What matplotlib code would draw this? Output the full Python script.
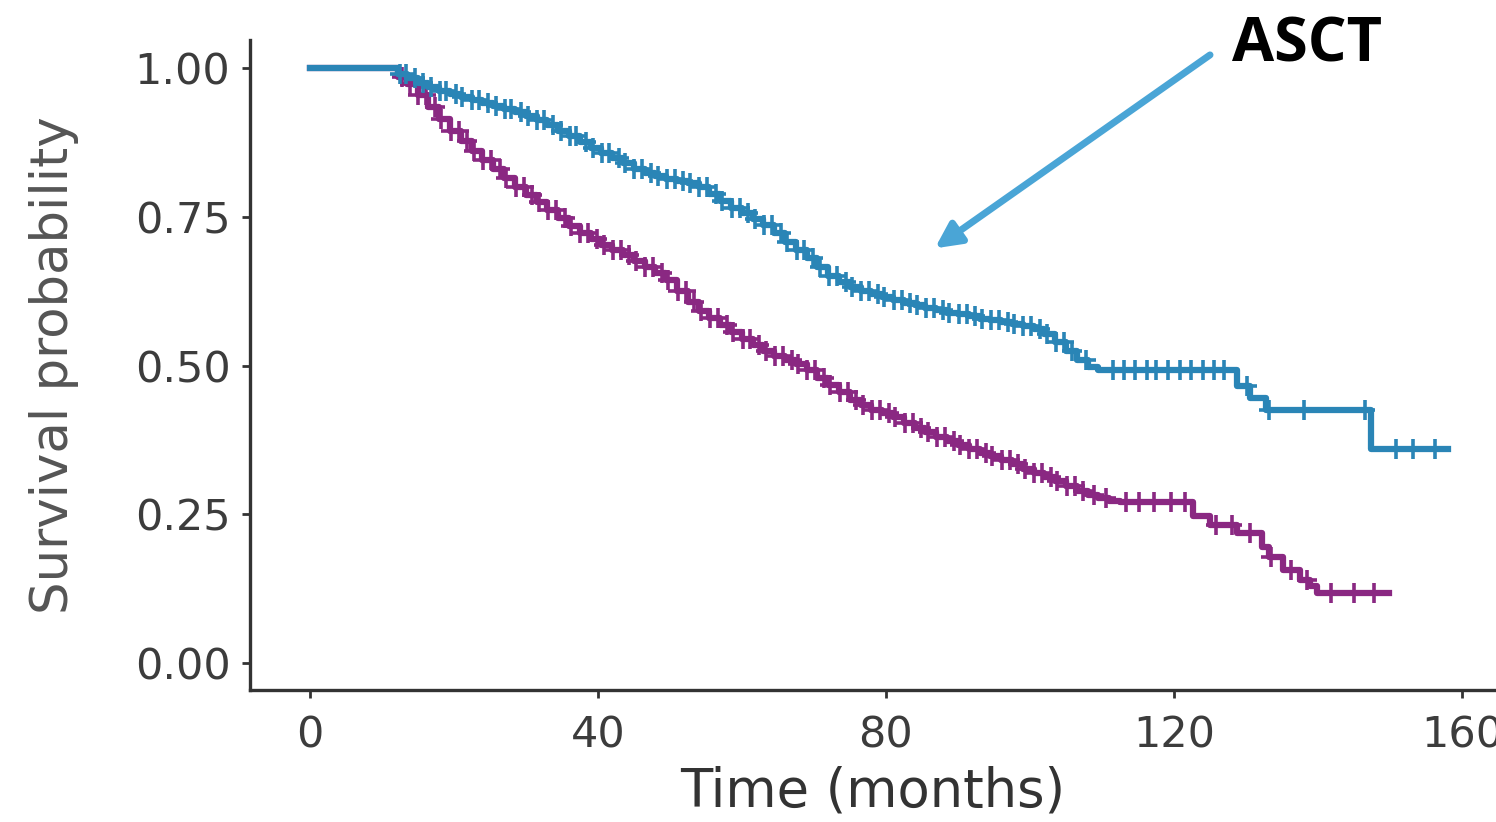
import numpy as np
import matplotlib
matplotlib.use("Agg")
import matplotlib.pyplot as plt

# Kaplan-Meier step knots (months, survival)
asct_time = [0, 12.3, 13.5, 15.0, 16.5, 18.0, 19.5, 21.0, 22.5, 24.0, 25.5, 27.0, 28.5,
             30.0, 31.5, 33.0, 34.5, 36.0, 37.5, 39.0, 40.5, 42.0, 43.5, 45.0, 46.5,
             48.0, 49.5, 51.0, 52.5, 54.0, 55.5, 57.0, 58.5, 60.0, 61.5, 63.0, 64.5,
             66.0, 67.5, 69.0, 70.5, 72.0, 73.5, 75.0, 76.5, 78.0, 79.5, 81.0, 82.5,
             84.0, 85.5, 87.0, 88.5, 90.0, 91.5, 93.0, 94.5, 96.0, 97.5, 99.0, 100.5,
             102.0, 103.5, 105.0, 106.5, 108.0, 109.5, 128.8, 130.5, 132.8, 147.3, 158.0]
asct_surv = [1.0, 0.99, 0.984, 0.975, 0.968, 0.962, 0.957, 0.952, 0.947, 0.942, 0.936, 0.931, 0.926,
             0.92, 0.912, 0.904, 0.895, 0.886, 0.876, 0.866, 0.857, 0.848, 0.840, 0.831, 0.824,
             0.818, 0.814, 0.810, 0.806, 0.800, 0.788, 0.776, 0.765, 0.756, 0.747, 0.736, 0.722,
             0.708, 0.694, 0.680, 0.665, 0.650, 0.640, 0.632, 0.625, 0.620, 0.615, 0.611, 0.606,
             0.601, 0.597, 0.593, 0.589, 0.586, 0.583, 0.579, 0.576, 0.573, 0.570, 0.566, 0.561,
             0.553, 0.540, 0.525, 0.510, 0.497, 0.492, 0.465, 0.445, 0.425, 0.360, 0.360]

ctrl_time = [0, 12.3, 13.5, 15.0, 16.5, 18.0, 19.5, 21.0, 22.5, 24.0, 25.5, 27.0, 28.5,
             30.0, 31.5, 33.0, 34.5, 36.0, 37.5, 39.0, 40.5, 42.0, 43.5, 45.0, 46.5,
             48.0, 49.5, 51.0, 52.5, 54.0, 55.5, 57.0, 58.5, 60.0, 61.5, 63.0, 64.5,
             66.0, 67.5, 69.0, 70.5, 72.0, 73.5, 75.0, 76.5, 78.0, 79.5, 81.0, 82.5,
             84.0, 85.5, 87.0, 88.5, 90.0, 91.5, 93.0, 94.5, 96.0, 97.5, 99.0, 100.5,
             102.0, 103.5, 105.0, 106.5, 108.0, 109.5, 111.0, 112.5, 122.6, 125.0, 128.7,
             132.2, 133.2, 135.1, 137.5, 138.9, 139.9, 149.8]
ctrl_surv = [1.0, 0.985, 0.973, 0.955, 0.935, 0.915, 0.895, 0.877, 0.860, 0.845, 0.830, 0.815, 0.800,
             0.787, 0.775, 0.762, 0.748, 0.735, 0.722, 0.712, 0.703, 0.694, 0.685, 0.676, 0.666,
             0.656, 0.643, 0.626, 0.607, 0.592, 0.580, 0.568, 0.556, 0.545, 0.534, 0.524, 0.516,
             0.510, 0.503, 0.492, 0.479, 0.467, 0.455, 0.443, 0.434, 0.426, 0.420, 0.413, 0.404,
             0.396, 0.388, 0.380, 0.374, 0.367, 0.360, 0.354, 0.348, 0.341, 0.334, 0.327, 0.320,
             0.313, 0.306, 0.298, 0.290, 0.283, 0.278, 0.273, 0.270, 0.248, 0.232, 0.218,
             0.195, 0.178, 0.156, 0.140, 0.130, 0.118, 0.118]

# censoring times ("+" marks)
asct_cens = [12.5, 13.4, 14.6, 15.8, 16.9, 18.1, 19.0, 20.3, 21.2, 22.6, 23.5, 24.8, 25.9, 27.1,
             28.0, 29.4, 30.3, 31.6, 32.5, 33.8, 34.9, 36.1, 37.0, 38.3, 39.4, 40.6, 41.5, 42.9,
             43.8, 45.1, 46.2, 47.4, 48.3, 49.6, 50.7, 51.9, 52.8, 54.1, 55.2, 56.4, 57.3, 58.6,
             59.7, 60.9, 61.8, 63.1, 64.2, 65.4, 66.3, 67.6, 68.7, 69.9, 70.8, 72.1, 73.2, 74.4,
             75.3, 76.6, 77.7, 78.9, 79.8, 81.1, 82.2, 83.4, 84.3, 85.6, 86.7, 87.9, 88.8, 90.1,
             91.2, 92.4, 93.3, 94.6, 95.7, 96.9, 97.8, 99.1, 100.2, 101.4, 102.3, 103.6, 104.7,
             105.9, 107.8, 111.5, 113.0, 114.6, 116.2, 117.5, 119.1, 120.8, 122.4, 124.0, 125.6,
             127.0, 130.2, 133.2, 138.0, 146.5, 150.8, 153.2, 156.3]
ctrl_cens = [12.8, 13.9, 15.1, 16.2, 17.4, 18.3, 19.6, 20.7, 21.9, 22.8, 24.1, 25.2, 26.4, 27.3,
             28.6, 29.7, 30.9, 31.8, 33.1, 34.2, 35.4, 36.3, 37.6, 38.7, 39.9, 40.8, 42.1, 43.2,
             44.4, 45.3, 46.6, 47.7, 48.9, 49.8, 51.1, 52.2, 53.4, 54.3, 55.6, 56.7, 57.9, 58.8,
             60.1, 61.2, 62.4, 63.3, 64.6, 65.7, 66.9, 67.8, 69.1, 70.2, 71.4, 72.3, 73.6, 74.7,
             75.9, 76.8, 78.1, 79.2, 80.4, 81.3, 82.6, 83.7, 84.9, 85.8, 87.1, 88.2, 89.4, 90.3,
             91.6, 92.7, 93.9, 94.8, 96.1, 97.2, 98.4, 99.3, 100.6, 101.7, 102.9, 103.8, 105.1,
             106.2, 107.4, 108.9, 110.6, 113.4, 115.1, 117.2, 119.6, 121.5, 125.8, 128.1, 130.6,
             133.4, 136.2, 138.4, 141.8, 145.0, 147.8]

x_ticks = [0, 40, 80, 120, 160]
y_ticks = [0.0, 0.25, 0.5, 0.75, 1.0]

blue = '#2a85b6'
purple = '#8a2882'


def step_at(times, surv, pts):
    idx = np.searchsorted(times, pts, side='right') - 1
    return np.asarray(surv)[idx]


fig = plt.figure(figsize=(14.96, 8.22), dpi=100)
ax = fig.add_axes([0.167, 0.1606, 0.833, 0.7907])

for t, s, c, col in [(ctrl_time, ctrl_surv, ctrl_cens, purple),
                     (asct_time, asct_surv, asct_cens, blue)]:
    ax.plot(t, s, drawstyle='steps-post', color=col, lw=4.5)
    ax.plot(c, step_at(t, s, c), ls='none', marker='+', ms=15, mew=2.6, color=col)

ax.set_xlim(-8.3, 164.7)
ax.set_ylim(-0.045, 1.047)
ax.set_xticks(x_ticks)
ax.set_yticks(y_ticks)
ax.set_yticklabels([f'{v:.2f}' for v in y_ticks])

for side in ['top', 'right']:
    ax.spines[side].set_visible(False)
for side in ['left', 'bottom']:
    ax.spines[side].set_color('#333333')
    ax.spines[side].set_linewidth(2.4)
ax.tick_params(axis='both', length=6, width=2, color='#333333',
               labelsize=31, labelcolor='#3c3c3c')
ax.tick_params(axis='y', pad=8)
ax.tick_params(axis='x', pad=12)

ax.set_xlabel('Time (months)', fontsize=38, color='#333333', labelpad=6)
ax.set_ylabel('Survival probability', fontsize=37, color='#555555', labelpad=40)

ax.annotate('', xy=(86.8, 0.697), xytext=(125.0, 1.022), xycoords='data',
            annotation_clip=False,
            arrowprops=dict(arrowstyle='-|>', color='#4aa5d6', lw=5,
                            mutation_scale=38, shrinkA=0, shrinkB=0))
ax.text(138.5, 1.037, 'ASCT', fontsize=44, fontweight='bold', family='Open Sans',
        ha='center', va='center', color='black', clip_on=False)

fig.savefig('out.png', dpi=100)
